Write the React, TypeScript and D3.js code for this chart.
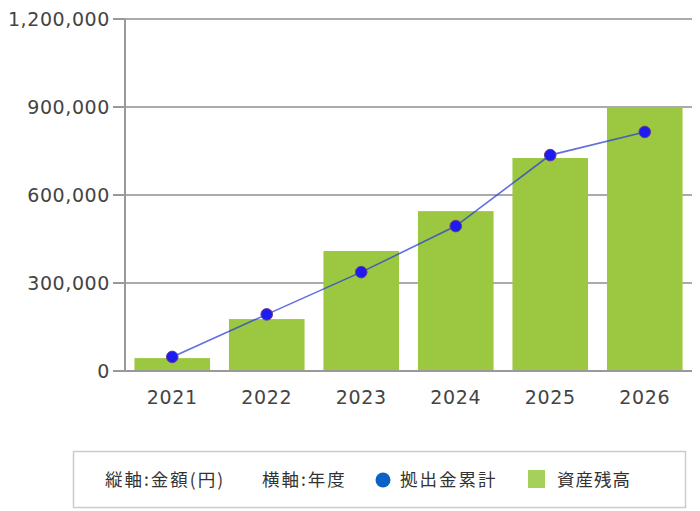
import React from 'react';
import * as d3 from 'd3';

const years = ['2021', '2022', '2023', '2024', '2025', '2026'];
const assetBalance = [44000, 177000, 409000, 545000, 726000, 900000];
const contributions = [48000, 193000, 337000, 494000, 736000, 815000];
const yTicks = [0, 300000, 600000, 900000, 1200000];

const W = 700;
const H = 511;
const margin = { top: 19, right: 8, bottom: 140, left: 125 };
const font = '"DejaVu Sans", Verdana, sans-serif';
const cjkFont = '"Noto Sans CJK JP", "DejaVu Sans", sans-serif';

const App: React.FC = () => {
  const x = d3.scaleBand<string>()
    .domain(years)
    .range([margin.left, W - margin.right])
    .paddingInner(0.2)
    .paddingOuter(0.1);

  const y = d3.scaleLinear()
    .domain([0, 1200000])
    .range([H - margin.bottom, margin.top]);

  const fmt = d3.format(',');
  const cx = (d: string) => (x(d) || 0) + x.bandwidth() / 2;

  const line = d3.line<number>()
    .x((_, i) => cx(years[i]))
    .y(d => y(d));

  const legendY = 480;

  return (
    <svg width={W} height={H} style={{ position: 'absolute', left: 0, top: 0, background: '#fff' }}>
      {/* grid + y ticks */}
      {yTicks.map(t => (
        <g key={t}>
          {t > 0 && (
            <line x1={margin.left - 12} x2={W - margin.right} y1={y(t)} y2={y(t)} stroke="#aaa" strokeWidth={2} />
          )}
          <line x1={margin.left - 12} x2={margin.left} y1={y(t)} y2={y(t)} stroke="#999" strokeWidth={2} />
          <text x={margin.left - 15} y={y(t)} dy="0.36em" textAnchor="end"
            fontFamily={font} fontSize={19} fill="#444" letterSpacing={0.6}>
            {fmt(t)}
          </text>
        </g>
      ))}

      {/* bars */}
      {years.map((yr, i) => (
        <rect key={yr} x={x(yr)} y={y(assetBalance[i])} width={x.bandwidth()}
          height={y(0) - y(assetBalance[i])} fill="#9bc741" />
      ))}

      {/* axes */}
      <line x1={margin.left} x2={margin.left} y1={margin.top} y2={y(0)} stroke="#999" strokeWidth={2} />
      <line x1={margin.left - 12} x2={W - margin.right} y1={y(0)} y2={y(0)} stroke="#999" strokeWidth={2} />

      {years.map(yr => (
        <text key={yr} x={cx(yr)} y={y(0) + 26} dy="0.36em" textAnchor="middle"
          fontFamily={font} fontSize={19} fill="#444" letterSpacing={0.6}>
          {yr}
        </text>
      ))}

      {/* contributions line */}
      <path d={line(contributions) || ''} fill="none" stroke="#2a3fd6" strokeOpacity={0.75} strokeWidth={1.6} />
      {contributions.map((v, i) => (
        <circle key={i} cx={cx(years[i])} cy={y(v)} r={5.8} fill="#1c1cf0" stroke="#6a3c8c" strokeWidth={1} />
      ))}

      {/* legend */}
      <rect x={73.5} y={451.5} width={612} height={56} fill="#fff" stroke="#ccc" strokeWidth={1.5} />
      <text x={105} y={legendY} dy="0.36em" fontFamily={cjkFont} fontSize={17.5} letterSpacing={2} fill="#333">縦軸:金額(円)</text>
      <text x={262} y={legendY} dy="0.36em" fontFamily={cjkFont} fontSize={17.5} letterSpacing={2} fill="#333">横軸:年度</text>
      <circle cx={383} cy={legendY} r={7.5} fill="#0b62c4" />
      <text x={400} y={legendY} dy="0.36em" fontFamily={cjkFont} fontSize={17.5} letterSpacing={2} fill="#333">拠出金累計</text>
      <rect x={528} y={470} width={17} height={18} fill="#a6d05c" />
      <text x={557} y={legendY} dy="0.36em" fontFamily={cjkFont} fontSize={17.5} letterSpacing={1} fill="#333">資産残高</text>
    </svg>
  );
};

export default App;
